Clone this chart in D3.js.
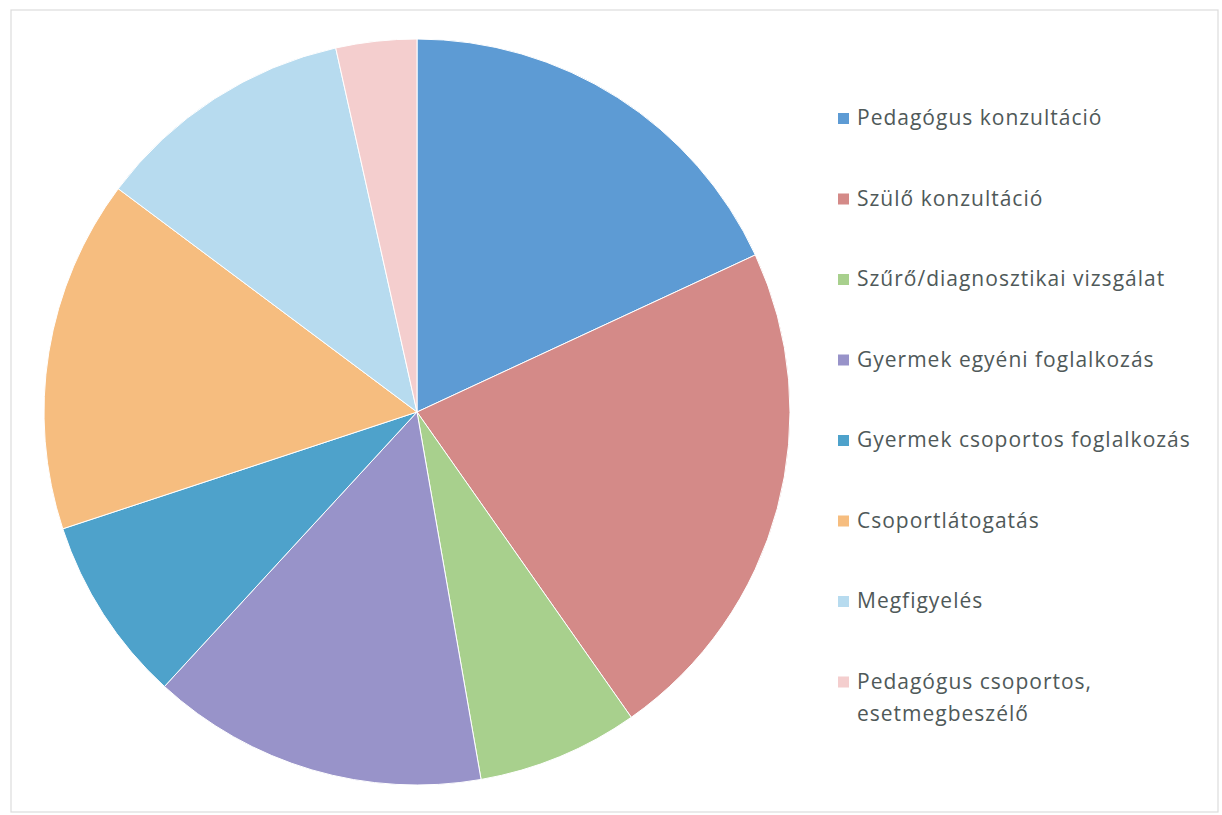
<!DOCTYPE html>
<html><head><meta charset="utf-8">
<script src="https://cdn.jsdelivr.net/npm/d3@7"></script>
<style>body{margin:0;background:#fff}</style>
</head><body>
<script>
const categories = ["Pedagógus konzultáció","Szülő konzultáció","Szűrő/diagnosztikai vizsgálat","Gyermek egyéni foglalkozás","Gyermek csoportos foglalkozás","Csoportlátogatás","Megfigyelés","Pedagógus csoportos, esetmegbeszélő"];
const values = [18.1, 22.2, 7.0, 14.6, 8.1, 15.3, 11.3, 3.5];
const colors = ["#5d9bd4","#d48a88","#a8d08d","#9893c9","#4ea2cb","#f6bd7f","#b7dbef","#f4cece"];

const W = 1222, H = 815;
const svg = d3.select("body").append("svg").attr("width", W).attr("height", H);
svg.append("rect").attr("x",11).attr("y",10).attr("width",1207).attr("height",802)
  .attr("fill","#fff").attr("stroke","#dcdcdc").attr("stroke-width",1.2);

const cx = 417, cy = 412, r = 373;
const pie = d3.pie().sort(null).value(d => d)(values);
const arc = d3.arc().innerRadius(0).outerRadius(r);
svg.append("g").attr("transform",`translate(${cx},${cy})`)
  .selectAll("path").data(pie).join("path")
  .attr("d", arc).attr("fill", (d,i) => colors[i])
  .attr("stroke","#fff").attr("stroke-width",1);

const leg = svg.append("g");
const y0 = 118, dy = 80.5;
categories.forEach((c,i) => {
  const y = y0 + i*dy;
  leg.append("rect").attr("x",838).attr("y",y-5).attr("width",11).attr("height",11).attr("fill",colors[i]);
  const parts = c === "Pedagógus csoportos, esetmegbeszélő" ? ["Pedagógus csoportos,","esetmegbeszélő"] : [c];
  const t = leg.append("text").attr("x",857).attr("y",y)
    .attr("font-family","'Open Sans', sans-serif").attr("font-size",21)
    .attr("letter-spacing","1px").attr("fill","#4f5959");
  parts.forEach((p,j) => t.append("tspan").attr("x",857).attr("dy", j===0 ? "0.35em" : "1.55em").text(p));
});
</script>
</body></html>
